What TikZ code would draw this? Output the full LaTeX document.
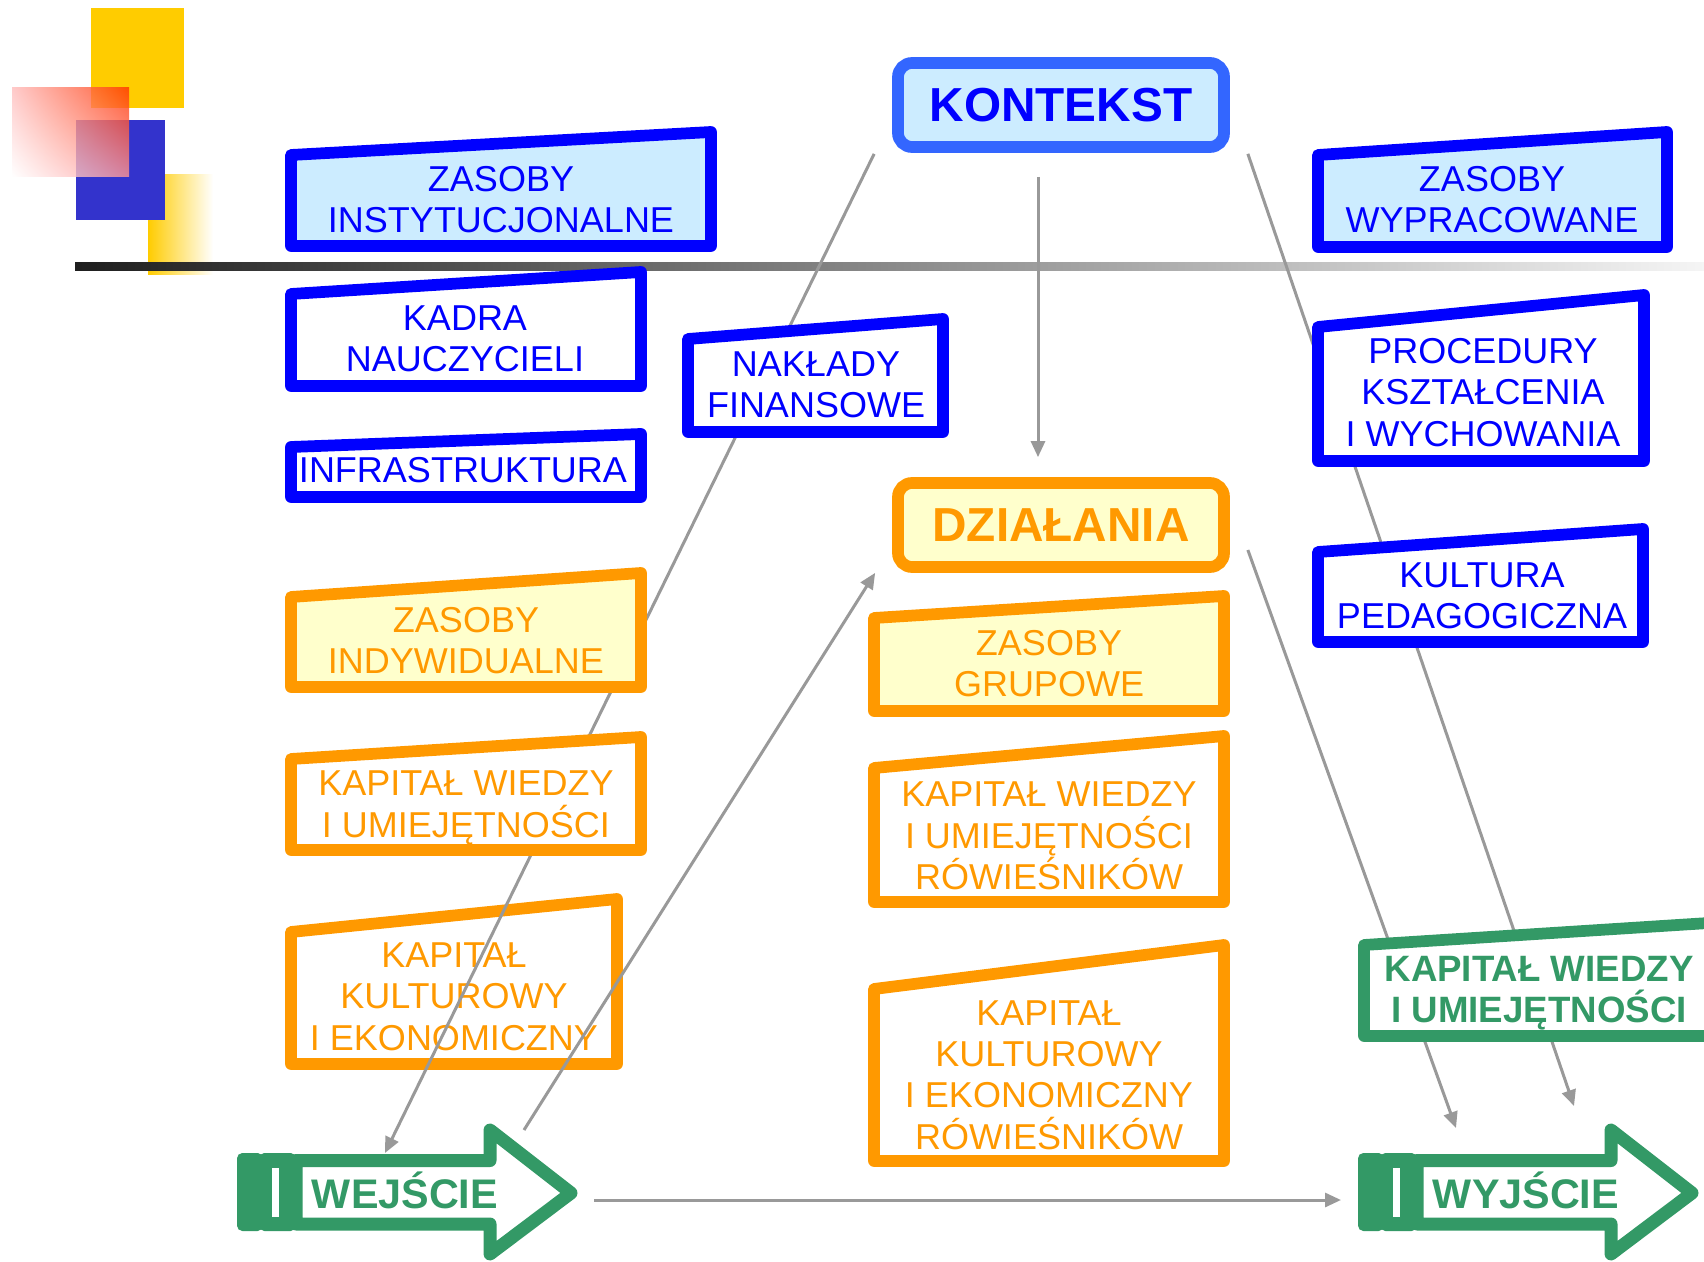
\documentclass[tikz,border=0pt]{standalone}
\usepackage{fontspec}
\setmainfont{Liberation Sans}
\usepackage{tikz}
\usetikzlibrary{arrows.meta,calc,shadings}

\tikzset{
  bluebox/.style={draw={rgb, 255:red, 0; green, 0; blue, 255 }, line width=8.8, line join=round},
  orangebox/.style={draw={rgb, 255:red, 255; green, 153; blue, 0 }, line width=8.8, line join=round},
  greenbox/.style={draw={rgb, 255:red, 51; green, 153; blue, 102 }, line width=8.8, line join=round},
  greenfill/.style={fill={rgb, 255:red, 51; green, 153; blue, 102 }},
  bluetxt/.style={text={rgb, 255:red, 0; green, 0; blue, 255 }, align=center, inner sep=0, font=\fontsize{27}{31}\selectfont},
  orangetxt/.style={text={rgb, 255:red, 255; green, 153; blue, 0 }, align=center, inner sep=0, font=\fontsize{27}{31}\selectfont},
  greentxt/.style={text={rgb, 255:red, 51; green, 153; blue, 102 }, align=center, inner sep=0, font=\bfseries\fontsize{27.5}{31}\selectfont},
  headbox/.style={line width=8.8, rounded corners=10.5, minimum width=244.5, minimum height=63, inner sep=0, font=\bfseries\fontsize{35.8}{40}\selectfont},
  link/.style={draw={rgb, 255:red, 153; green, 153; blue, 153 }, line width=2.25, -{Triangle[length=12pt,width=10.5pt]}},
}

\begin{document}
\begin{tikzpicture}[x=0.75pt,y=0.75pt,yscale=-1,xscale=1]
\useasboundingbox (0,0) rectangle (1704,1262);
\clip (0,0) rectangle (1704,1262);

%Shape: Rectangle (yellow fade)
\shade [left color={rgb, 255:red, 255; green, 204; blue, 0 }, right color=white] (148,175) rectangle (213,275) ;
%Shape: Rectangle (yellow)
\fill [fill={rgb, 255:red, 255; green, 204; blue, 0 }] (91,8) rectangle (184,108) ;
%Shape: Rectangle (blue)
\fill [fill={rgb, 255:red, 51; green, 51; blue, 204 }] (76,120) rectangle (165,220) ;
%Shape: Rectangle (red fade)
\shade [opacity=0.8, upper right={rgb, 255:red, 255; green, 51; blue, 0 }, upper left={rgb, 255:red, 255; green, 190; blue, 190 }, lower right={rgb, 255:red, 255; green, 150; blue, 150 }, lower left=white] (12,88) rectangle (129,177) ;
%Straight Lines (rule)
\shade [left color=black!88, right color=black!4] (75,263) rectangle (1704,271) ;

%Heads
\node (kontekst) at (1061,105) [headbox, draw={rgb, 255:red, 51; green, 102; blue, 255 }, fill={rgb, 255:red, 204; green, 236; blue, 255 }, text={rgb, 255:red, 0; green, 0; blue, 255 }] {KONTEKST};
\node (dzialania) at (1061,525) [headbox, draw={rgb, 255:red, 255; green, 153; blue, 0 }, fill={rgb, 255:red, 255; green, 255; blue, 204 }, text={rgb, 255:red, 255; green, 153; blue, 0 }] {DZIAŁANIA};

%Shape: Right Arrow (in)
\fill [greenfill, rounded corners=4] (237,1153) rectangle (263,1231) ;
\fill [greenfill, rounded corners=4] (259,1153) rectangle (296,1231) ;
\fill [white] (272,1168) rectangle (279,1217) ;
\draw [greenbox, line width=9.75, fill=white] (296,1160.5) -- (490,1160.5) -- (490,1130) -- (571,1193) -- (490,1254) -- (490,1224) -- (296,1224) -- cycle ;
\node (wejscie) at (405,1190) [greentxt, font=\bfseries\fontsize{31}{36}\selectfont] {WEJŚCIE};

%Shape: Right Arrow (out)
\fill [greenfill, rounded corners=4] (1358,1153) rectangle (1384,1231) ;
\fill [greenfill, rounded corners=4] (1380,1153) rectangle (1417,1231) ;
\fill [white] (1393,1168) rectangle (1400,1217) ;
\draw [greenbox, line width=9.75, fill=white] (1417,1160.5) -- (1611,1160.5) -- (1611,1130) -- (1692,1193) -- (1611,1254) -- (1611,1224) -- (1417,1224) -- cycle ;
\node (wyjscie) at (1526,1190) [greentxt, font=\bfseries\fontsize{31}{36}\selectfont] {WYJŚCIE};

%Shape: Box under the links
\draw [orangebox, fill=white] (291,932) -- (617,899) -- (617,1064) -- (291,1064) -- cycle ;
\node (kapkultur) at (454,996.5) [orangetxt] {KAPITAŁ\\KULTUROWY\\I EKONOMICZNY};

%Straight Lines
\draw [link] ($(kontekst.south west)+(-18,1)$) -- ($(wejscie.center)+(-20,-37)$) ;
\draw [link] ($(wejscie.center)+(119,-60)$) -- ($(dzialania.south west)+(-17,0)$) ;
\draw [link] ($(kontekst.south)+(-23,24)$) -- ($(dzialania.north)+(-23,-20)$) ;
\draw [link] ($(kontekst.south east)+(18,1)$) -- ($(wyjscie.center)+(48,-84)$) ;
\draw [link] ($(dzialania.east)+(18,25)$) -- ($(wyjscie.center)+(-70,-62)$) ;
\draw [link] ($(wejscie.center)+(189,10)$) -- ($(wyjscie.center)+(-185,10)$) ;

%Shape: Left column
\draw [bluebox, fill={rgb, 255:red, 204; green, 236; blue, 255 }] (291,155) -- (711,132) -- (711,246) -- (291,246) -- cycle ;
\node (zasobyinst) at (501,199.5) [bluetxt] {ZASOBY\\INSTYTUCJONALNE};
\draw [bluebox, fill=white] (291,294) -- (641,272) -- (641,386) -- (291,386) -- cycle ;
\node (kadra) at (465,338.5) [bluetxt] {KADRA\\NAUCZYCIELI};
\draw [bluebox, fill=white] (291,447) -- (641,434) -- (641,497) -- (291,497) -- cycle ;
\node (infra) at (463,470) [bluetxt] {INFRASTRUKTURA};
\draw [bluebox, fill=white] (688,339) -- (943,319) -- (943,432) -- (688,432) -- cycle ;
\node (naklady) at (816,385) [bluetxt] {NAKŁADY\\FINANSOWE};
\draw [orangebox, fill={rgb, 255:red, 255; green, 255; blue, 204 }] (291,597) -- (641,573) -- (641,687) -- (291,687) -- cycle ;
\node (zasobyind) at (466,640.5) [orangetxt] {ZASOBY\\INDYWIDUALNE};
\draw [orangebox, fill=white] (291,759) -- (641,737) -- (641,850) -- (291,850) -- cycle ;
\node (kapwiedzy) at (466,808) [orangetxt] {KAPITAŁ WIEDZY\\I UMIEJĘTNOŚCI};

%Shape: Middle column
\draw [orangebox, fill={rgb, 255:red, 255; green, 255; blue, 204 }] (874,618) -- (1224,596) -- (1224,711) -- (874,711) -- cycle ;
\node (zasobygrup) at (1049,663.5) [orangetxt] {ZASOBY\\GRUPOWE};
\draw [orangebox, fill=white] (874,768) -- (1224,736) -- (1224,902) -- (874,902) -- cycle ;
\node (kapwiedzyrow) at (1049,836) [orangetxt] {KAPITAŁ WIEDZY\\I UMIEJĘTNOŚCI\\RÓWIEŚNIKÓW};
\draw [orangebox, fill=white] (874,989) -- (1224,945) -- (1224,1161) -- (874,1161) -- cycle ;
\node (kapkulturrow) at (1049,1075) [orangetxt] {KAPITAŁ\\KULTUROWY\\I EKONOMICZNY\\RÓWIEŚNIKÓW};

%Shape: Right column
\draw [bluebox, fill={rgb, 255:red, 204; green, 236; blue, 255 }] (1318,155) -- (1667,132) -- (1667,247) -- (1318,247) -- cycle ;
\node (zasobywyp) at (1492,199.5) [bluetxt] {ZASOBY\\WYPRACOWANE};
\draw [bluebox, fill=white] (1318,327) -- (1644,295) -- (1644,461) -- (1318,461) -- cycle ;
\node (procedury) at (1483,392.5) [bluetxt] {PROCEDURY\\KSZTAŁCENIA\\I WYCHOWANIA};
\draw [bluebox, fill=white] (1318,552) -- (1643,529) -- (1643,642) -- (1318,642) -- cycle ;
\node (kultura) at (1482,596) [bluetxt] {KULTURA\\PEDAGOGICZNA};
\draw [greenbox, fill=white] (1364,945) -- (1740,921) -- (1740,1036) -- (1364,1036) -- cycle ;
\node (kapwynik) at (1539,993) [greentxt] {KAPITAŁ WIEDZY\\I UMIEJĘTNOŚCI};

\end{tikzpicture}
\end{document}
